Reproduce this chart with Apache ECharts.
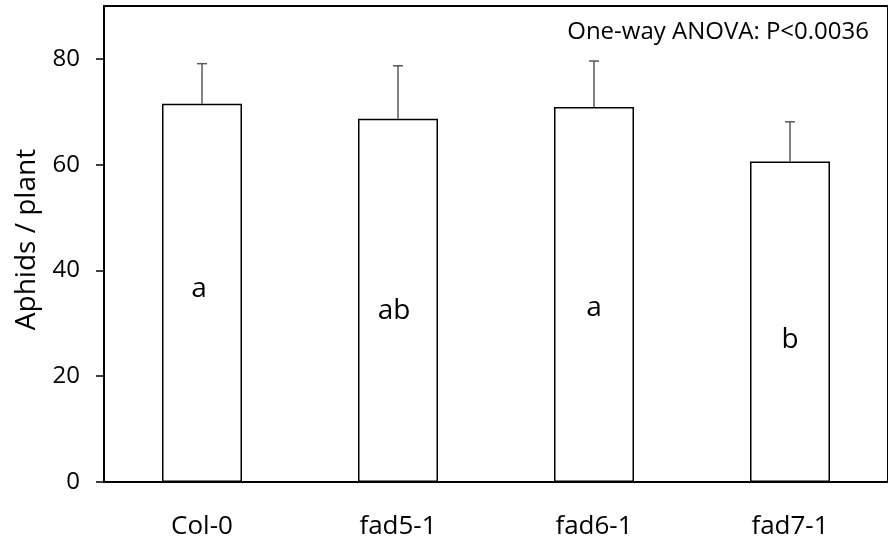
<!DOCTYPE html>
<html><head><meta charset="utf-8">
<script src="https://cdn.jsdelivr.net/npm/echarts@6/dist/echarts.min.js"></script>
<style>html,body{margin:0;padding:0;background:#fff}#c{width:888px;height:542px}</style>
</head><body><div id="c"></div>
<script>
const categories = ['Col-0', 'fad5-1', 'fad6-1', 'fad7-1'];
const means = [71.5, 68.7, 70.9, 60.6];
const sem = [7.6, 10.0, 8.7, 7.5];
const letters = ['a', 'ab', 'a', 'b'];
const yTicks = [0, 20, 40, 60, 80];
const yTitle = 'Aphids / plant';
const anovaText = 'One-way ANOVA: P<0.0036';

// annotation anchors (value units) and small horizontal nudges (px)
const letterAnchor = [36.45, 32.25, 32.95, 26.75];
const letterDx = [-3, -4, 0, 0];

const FONT = 'Open Sans';
const chart = echarts.init(document.getElementById('c'), null, {renderer: 'canvas'});

const option = {
  backgroundColor: '#fff',
  animation: false,
  title: {
    text: anovaText, right: 19, top: 20, padding: 0,
    textStyle: {fontFamily: FONT, fontSize: 24, fontWeight: 'normal', color: '#000'}
  },
  grid: {
    left: 104, top: 6, bottom: 60, right: -13,
    show: true, borderColor: '#000', borderWidth: 2, backgroundColor: 'transparent'
  },
  xAxis: {
    type: 'category', data: categories,
    axisLine: {lineStyle: {color: '#000', width: 2}},
    axisTick: {show: false},
    axisLabel: {fontFamily: FONT, fontSize: 26, color: '#000', margin: 32},
    splitLine: {show: false}
  },
  yAxis: {
    type: 'value', min: 0, max: 90,
    name: yTitle, nameLocation: 'middle', nameGap: 63,
    nameTextStyle: {fontFamily: FONT, fontSize: 28, color: '#000', padding: [0, 0, 0, 9]},
    axisLine: {show: true, lineStyle: {color: '#000', width: 2}},
    axisTick: {show: true, inside: false, length: 8, customValues: yTicks, lineStyle: {color: '#000', width: 1.5}},
    axisLabel: {fontFamily: FONT, fontSize: 24, color: '#000', margin: 24, customValues: yTicks},
    splitLine: {show: false}
  },
  series: [
    {
      type: 'bar', data: means, barWidth: 80,
      itemStyle: {color: '#fff', borderColor: '#000', borderWidth: 1.5},
      z: 2
    },
    {
      type: 'custom',
      data: means.map((m, i) => [i, m, m + sem[i]]),
      encode: {x: 0, y: [1, 2]},
      z: 3,
      renderItem: function (params, api) {
        const x = api.value(0);
        const lo = api.coord([x, api.value(1)]);
        const hi = api.coord([x, api.value(2)]);
        const hw = 5;
        const st = {stroke: '#595959', lineWidth: 1.5};
        return {type: 'group', children: [
          {type: 'line', shape: {x1: lo[0], y1: lo[1], x2: hi[0], y2: hi[1]}, style: st},
          {type: 'line', shape: {x1: hi[0] - hw, y1: hi[1], x2: hi[0] + hw, y2: hi[1]}, style: st}
        ]};
      }
    },
    {
      type: 'scatter', symbolSize: 0, z: 4, silent: true,
      itemStyle: {opacity: 1, color: 'rgba(0,0,0,0)'},
      data: letterAnchor.map((v, i) => ({value: [i, v], label: {offset: [letterDx[i], 0]}})),
      label: {
        show: true, position: 'inside', opacity: 1,
        formatter: p => letters[p.dataIndex],
        fontFamily: FONT, fontSize: 28, color: '#000'
      }
    }
  ]
};
chart.setOption(option);
</script></body></html>
